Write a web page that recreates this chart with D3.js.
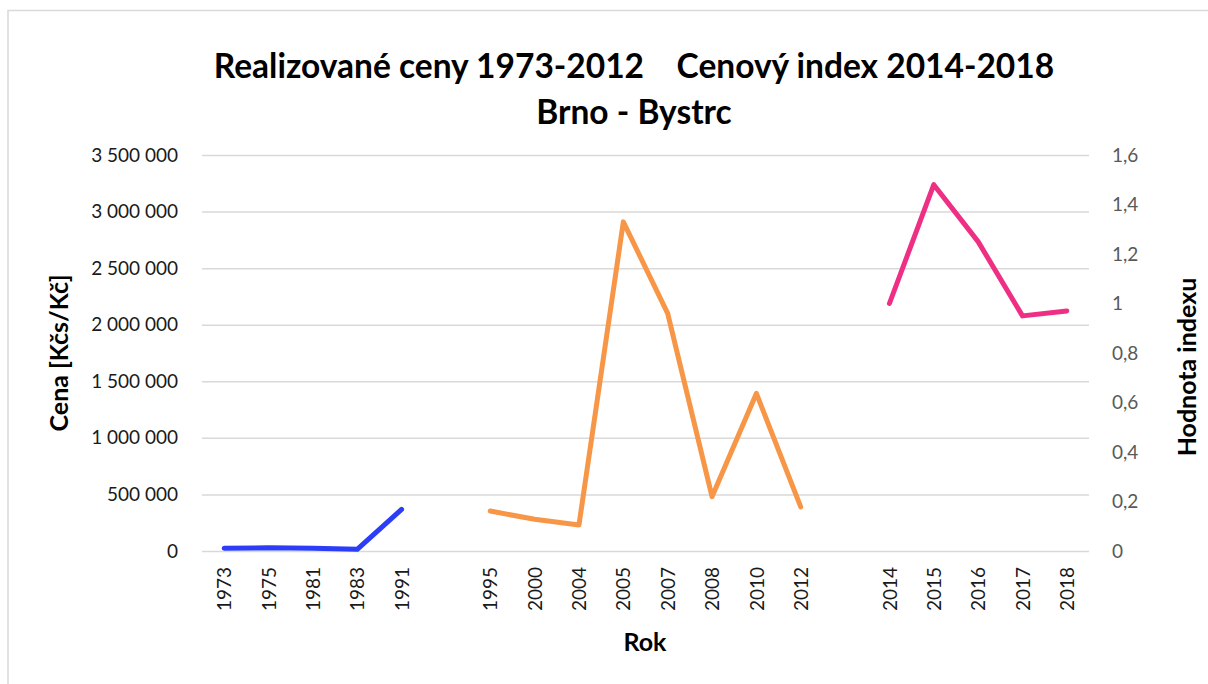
<!DOCTYPE html>
<html>
<head>
<meta charset="utf-8">
<script src="https://cdn.jsdelivr.net/npm/d3@7"></script>
<style>
  body { margin: 0; background: #fff; }
  svg { display: block; font-family: Lato, "Open Sans", sans-serif; }
</style>
</head>
<body>
<div id="chart"></div>
<script>
let width = 1208;
let height = 684;

// category slots along the x axis, blanks are the gaps between the three series
let years = ["1973", "1975", "1981", "1983", "1991", "",
    "1995", "2000", "2004", "2005", "2007", "2008", "2010", "2012", "",
    "2014", "2015", "2016", "2017", "2018"];

// realized prices 1973-1991 (Kčs)
let oldYears = ["1973", "1975", "1981", "1983", "1991"];
let oldPrices = [24000, 29000, 25000, 15000, 368000];

// realized prices 1995-2012 (Kč)
let newYears = ["1995", "2000", "2004", "2005", "2007", "2008", "2010", "2012"];
let newPrices = [353000, 280000, 230000, 2909000, 2100000, 480000, 1393000, 390000];

// price index 2014-2018 (right axis)
let indexYears = ["2014", "2015", "2016", "2017", "2018"];
let indexValues = [1.0, 1.48, 1.25, 0.95, 0.97];

let priceTicks = [0, 500000, 1000000, 1500000, 2000000, 2500000, 3000000, 3500000];
let indexTicks = [0, 0.2, 0.4, 0.6, 0.8, 1, 1.2, 1.4, 1.6];

let margin = {left: 202, right: width - 1089, top: 155, bottom: height - 551};

let cz = d3.formatLocale({decimal: ",", thousands: "\u00a0", grouping: [3], currency: ["", " Kč"]});
let fmtPrice = cz.format(",d");
let fmtIndex = cz.format("~g");

let svg = d3.select("#chart").append("svg")
    .attr("width", width)
    .attr("height", height);

// chart area border, runs off the right and bottom edge like the source
svg.append("rect")
    .attr("x", 8).attr("y", 10.5)
    .attr("width", width + 10).attr("height", height + 10)
    .attr("fill", "#fff")
    .attr("stroke", "#d9d9d9")
    .attr("stroke-width", 1.5);

let x = d3.scalePoint()
    .domain(d3.range(years.length))
    .range([margin.left, width - margin.right])
    .padding(0.5);

let y = d3.scaleLinear()
    .domain([0, 3500000])
    .range([height - margin.bottom, margin.top]);

let y2 = d3.scaleLinear()
    .domain([0, 1.6])
    .range([height - margin.bottom, margin.top]);

function xOf(year) {
    return x(years.indexOf(year));
}

// gridlines
svg.append("g")
    .attr("class", "grid")
    .attr("transform", `translate(${margin.left},0)`)
    .call(d3.axisLeft(y).tickValues(priceTicks)
        .tickSize(-(width - margin.left - margin.right)).tickFormat(""))
    .call(g => g.select(".domain").remove())
    .call(g => g.selectAll("line").attr("stroke", "#d9d9d9").attr("stroke-width", 1.5));

// left axis labels
svg.append("g")
    .attr("transform", `translate(${margin.left},0)`)
    .call(d3.axisLeft(y).tickValues(priceTicks).tickSize(0).tickPadding(24).tickFormat(fmtPrice))
    .call(g => g.select(".domain").remove())
    .call(g => g.selectAll("text")
        .attr("font-family", "Lato, sans-serif")
        .attr("font-size", 19)
        .attr("fill", "#1a1a1a"));

// right axis labels
svg.append("g")
    .attr("transform", `translate(${width - margin.right},0)`)
    .call(d3.axisRight(y2).tickValues(indexTicks).tickSize(0).tickPadding(23).tickFormat(fmtIndex))
    .call(g => g.select(".domain").remove())
    .call(g => g.selectAll("text")
        .attr("font-family", "Lato, sans-serif")
        .attr("font-size", 19)
        .attr("fill", "#595959"));

// x axis labels, rotated
svg.append("g")
    .attr("transform", `translate(0,${height - margin.bottom})`)
    .call(d3.axisBottom(x).tickSize(0).tickFormat(i => years[i]))
    .call(g => g.select(".domain").remove())
    .call(g => g.selectAll("text")
        .attr("font-family", "Lato, sans-serif")
        .attr("font-size", 19)
        .attr("fill", "#1a1a1a")
        .attr("text-anchor", "end")
        .attr("transform", "rotate(-90)")
        .attr("x", -16)
        .attr("y", 0)
        .attr("dy", "0.35em"));

let line = d3.line().x(d => d[0]).y(d => d[1]);

function drawSeries(ys, vs, scale, colour) {
    svg.append("path")
        .datum(ys.map((yr, i) => [xOf(yr), scale(vs[i])]))
        .attr("d", line)
        .attr("fill", "none")
        .attr("stroke", colour)
        .attr("stroke-width", 5)
        .attr("stroke-linejoin", "round")
        .attr("stroke-linecap", "round");
}

drawSeries(oldYears, oldPrices, y, "#2b3df7");
drawSeries(newYears, newPrices, y, "#f79646");
drawSeries(indexYears, indexValues, y2, "#ee2f84");

// titles
let title = svg.append("text")
    .attr("text-anchor", "middle")
    .attr("font-weight", "bold")
    .attr("font-size", 33.5)
    .attr("fill", "#000")
    .style("white-space", "pre");
title.append("tspan").attr("x", 634).attr("y", 78)
    .text("Realizované ceny 1973-2012    Cenový index 2014-2018");
title.append("tspan").attr("x", 634).attr("y", 124)
    .text("Brno - Bystrc");

svg.append("text")
    .attr("transform", `translate(68,353) rotate(-90)`)
    .attr("text-anchor", "middle")
    .attr("font-weight", "bold")
    .attr("font-size", 25)
    .text("Cena [Kčs/Kč]");

svg.append("text")
    .attr("transform", `translate(1196,367) rotate(-90)`)
    .attr("text-anchor", "middle")
    .attr("font-weight", "bold")
    .attr("font-size", 25)
    .text("Hodnota indexu");

svg.append("text")
    .attr("x", 645).attr("y", 651)
    .attr("text-anchor", "middle")
    .attr("font-weight", "bold")
    .attr("font-size", 25)
    .text("Rok");
</script>
</body>
</html>
